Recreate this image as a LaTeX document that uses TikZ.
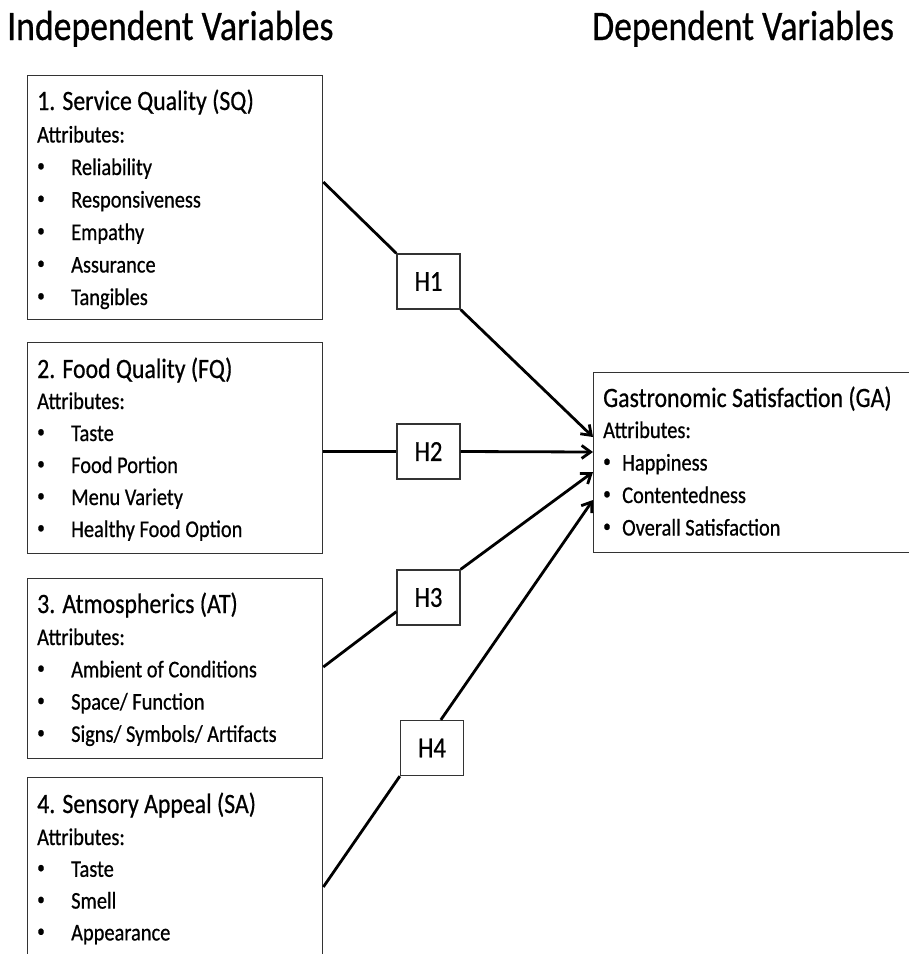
\documentclass[tikz,border=0pt]{standalone}
\usepackage{fontspec}
\setmainfont[FakeStretch=0.85,FakeBold=0.6]{Carlito}
\usetikzlibrary{arrows.meta,calc}
\newcommand\bul{\makebox[34pt][l]{\raisebox{0.15em}{\scalebox{0.75}{•}}}}
\newcommand\gbul{\makebox[19pt][l]{\raisebox{0.15em}{\scalebox{0.75}{•}}}}
\begin{document}
\begin{tikzpicture}[x=1pt,y=-1pt,
  box/.style={draw=black!80, line width=1.3pt, inner sep=0, anchor=north west},
  hyp/.style={draw=black!80, line width=1.3pt, inner sep=0, minimum width=63pt, minimum height=55pt, font=\fontsize{29}{32}\selectfont},
  head/.style={anchor=base west, inner sep=0, font=\fontsize{42}{48}\selectfont},
  ttl/.style={anchor=base west, inner sep=0, font=\fontsize{28}{32}\selectfont},
  txt/.style={anchor=base west, inner sep=0, font=\fontsize{24}{28}\selectfont},
  conn/.style={line width=2.8pt},
  arr/.style={conn, -{Straight Barb[length=9pt,width=13pt]}}]
\useasboundingbox (0,0) rectangle (909,954);
\clip (0,0) rectangle (909,954);
\fill[white] (0,0) rectangle (909,954);

% headings
\node[head] (hind) at (7,40) {Independent Variables};
\node[head] (hdep) at (592,40) {Dependent Variables};

% boxes
\node[box, minimum width=295pt, minimum height=244pt] (sq) at (27,75) {};
\node[box, minimum width=295pt, minimum height=211pt] (fq) at (27,342) {};
\node[box, minimum width=295pt, minimum height=180pt] (at) at (27,578) {};
\node[box, minimum width=295pt, minimum height=230pt] (sa) at (27,777) {};
\node[box, minimum width=330pt, minimum height=180pt] (ga) at (593,372) {};

% box 1
\node[ttl] (sq-t) at (37,110) {1. Service Quality (SQ)};
\node[txt] (sq-a) at (37,142.5) {Attributes:};
\foreach \s [count=\i] in {Reliability,Responsiveness,Empathy,Assurance,Tangibles}
  \node[txt] (sq-\i) at (37,{142.5+32.5*\i}) {\bul\s};

% box 2
\node[ttl] (fq-t) at (37,378) {2. Food Quality (FQ)};
\node[txt] (fq-a) at (37,409) {Attributes:};
\foreach \s [count=\i] in {Taste,Food Portion,Menu Variety,Healthy Food Option}
  \node[txt] (fq-\i) at (37,{409+32*\i}) {\bul\s};

% box 3
\node[ttl] (at-t) at (37,613) {3. Atmospherics (AT)};
\node[txt] (at-a) at (37,645) {Attributes:};
\foreach \s [count=\i] in {Ambient of Conditions,Space/ Function,Signs/ Symbols/ Artifacts}
  \node[txt] (at-\i) at (37,{645+32.3*\i}) {\bul\s};

% box 4
\node[ttl] (sa-t) at (37,813) {4. Sensory Appeal (SA)};
\node[txt] (sa-a) at (37,845) {Attributes:};
\foreach \s [count=\i] in {Taste,Smell,Appearance}
  \node[txt] (sa-\i) at (37,{845+31.8*\i}) {\bul\s};

% GA box
\node[ttl] (ga-t) at (603,407) {Gastronomic Satisfaction (GA)};
\node[txt] (ga-a) at (603,438) {Attributes:};
\foreach \s [count=\i] in {Happiness,Contentedness,Overall Satisfaction}
  \node[txt] (ga-\i) at (603,{438+32.5*\i}) {\gbul\s};

% hypothesis boxes
\node[hyp] (h1) at (428.5,281.5) {H1};
\node[hyp] (h2) at (428.5,451.5) {H2};
\node[hyp] (h3) at (428.5,597.5) {H3};
\node[hyp] (h4) at (432,748) {H4};

% connectors
\draw[conn] ($(sq.north east)+(0,107)$) -- (h1.north west);
\draw[arr] (h1.south east) -- ($(ga.north west)+(0,65)$);
\draw[conn] (fq.east |- h2.west) -- (h2.west);
\draw[arr] (h2.east) -- ($(ga.north west)+(0,80)$);
\draw[conn] ($(at.north east)+(0,89)$) -- ($(h3.south west)+(0,-14)$);
\draw[arr] (h3.north east) -- ($(ga.north west)+(0,100)$);
\draw[conn] ($(sa.north east)+(0,110)$) -- (h4.south west);
\draw[arr] ($(h4.north west)+(41,0)$) -- ($(ga.north west)+(0,128)$);
\end{tikzpicture}
\end{document}
